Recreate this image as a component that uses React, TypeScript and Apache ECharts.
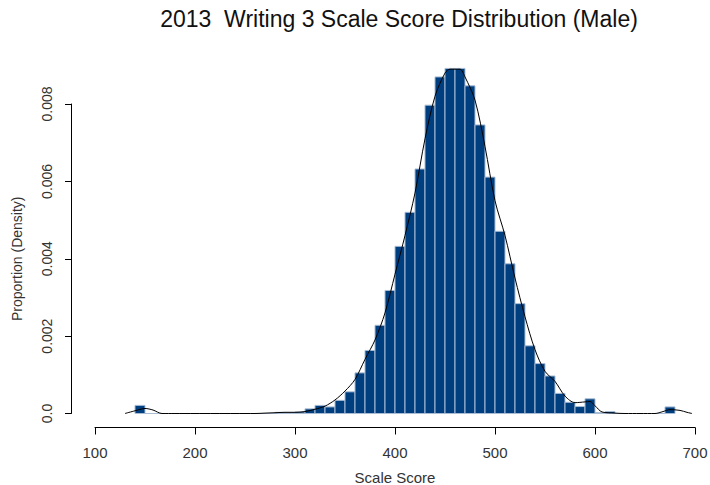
import React, { useEffect, useRef } from "react";
import * as echarts from "echarts";

// Histogram bins (lower edge, width 10) and their densities
const binStarts = [140, 150, 160, 170, 180, 190, 200, 210, 220, 230, 240, 250, 260, 270, 280, 290, 300, 310, 320, 330, 340, 350, 360, 370, 380, 390, 400, 410, 420, 430, 440, 450, 460, 470, 480, 490, 500, 510, 520, 530, 540, 550, 560, 570, 580, 590, 600, 610, 620, 630, 640, 650, 660, 670];
const binDensity = [0.00021, 0, 0, 0, 0, 0, 0, 0, 0, 0, 0, 0, 0, 0, 0.00003, 0.00003, 0.00004, 0.00012, 0.00021, 0.00017, 0.00034, 0.00056, 0.00105, 0.00163, 0.00228, 0.00318, 0.00432, 0.0052, 0.00632, 0.00797, 0.0087, 0.00892, 0.00892, 0.00847, 0.00746, 0.00611, 0.00471, 0.00387, 0.00284, 0.00175, 0.00129, 0.00097, 0.00052, 0.00029, 0.00018, 0.00038, 0.00002, 0.00005, 0, 0, 0, 0, 0, 0.00017];
const binWidth = 10;

// Kernel density curve
const curveX = [130, 140, 150, 158, 167, 180, 200, 220, 240, 260, 270, 280, 290, 300, 310, 320, 330, 340, 350, 360, 370, 380, 390, 400, 410, 420, 430, 440, 450, 455, 460, 465, 470, 480, 490, 500, 510, 520, 530, 540, 550, 560, 570, 580, 590, 595, 600, 607, 620, 630, 645, 660, 668, 675, 685, 692, 697];
const curveY = [0, 0.00007, 0.00013, 0.00009, 0, 0, 0, 0, 0, 0, 0.00001, 0.00002, 0.00003, 0.00003, 0.00005, 0.00011, 0.00019, 0.00035, 0.00058, 0.00088, 0.0014, 0.0019, 0.0026, 0.0036, 0.0046, 0.0057, 0.0071, 0.0082, 0.0088, 0.0089, 0.0089, 0.0089, 0.0087, 0.0081, 0.0069, 0.0055, 0.0046, 0.0035, 0.0025, 0.00165, 0.00109, 0.00083, 0.00045, 0.00028, 0.0003, 0.00031, 0.0002, 0.00004, 0.00001, 0, 0, 0, 0.00005, 0.0001, 0.00008, 0.00003, 0];

const xTicks = [100, 200, 300, 400, 500, 600, 700];
const yTicks = [0, 0.002, 0.004, 0.006, 0.008];

const FONT = "'Liberation Sans', Arial, sans-serif";

export default function App() {
  const ref = useRef<HTMLDivElement>(null);
  useEffect(() => {
    if (!ref.current) return;
    const chart = echarts.init(ref.current, null, { renderer: "svg" });
    const bars = binStarts.map((s, i) => [s, s + binWidth, binDensity[i]]);
    const curve = curveX.map((x, i) => [x, curveY[i]]);
    chart.setOption({
      animation: false,
      backgroundColor: "#ffffff",
      textStyle: { fontFamily: FONT },
      title: {
        text: "2013  Writing 3 Scale Score Distribution (Male)",
        left: 394,
        textAlign: "center",
        top: 2,
        textStyle: { fontFamily: FONT, fontSize: 23, fontWeight: "normal", color: "#111" },
      },
      grid: { left: 95, right: 15, top: 104, bottom: 71.5, outerBoundsMode: "none", containLabel: false },
      xAxis: {
        type: "value",
        min: xTicks[0],
        max: xTicks[xTicks.length - 1],
        interval: 100,
        offset: 14,
        name: "Scale Score",
        nameLocation: "middle",
        nameGap: 42,
        nameTextStyle: { fontFamily: FONT, fontSize: 15, color: "#333" },
        axisLine: { show: true, onZero: false, lineStyle: { color: "#000", width: 1 } },
        axisTick: { show: true, length: 7, lineStyle: { color: "#000" } },
        axisLabel: { fontFamily: FONT, fontSize: 15, color: "#333", margin: 17 },
        splitLine: { show: false },
      },
      yAxis: {
        type: "value",
        min: yTicks[0],
        max: yTicks[yTicks.length - 1],
        interval: 0.002,
        offset: 24,
        name: "Proportion (Density)",
        nameLocation: "middle",
        nameGap: 47,
        nameRotate: 90,
        nameTextStyle: { fontFamily: FONT, fontSize: 14, color: "#333" },
        axisLine: { show: true, onZero: false, lineStyle: { color: "#000", width: 1 } },
        axisTick: { show: true, length: 6, lineStyle: { color: "#000" } },
        axisLabel: {
          fontFamily: FONT,
          fontSize: 14,
          color: "#333",
          rotate: 90,
          margin: 17,
          formatter: (v: number) => (v === 0 ? "0.0" : v.toFixed(3)),
        },
        splitLine: { show: false },
      },
      series: [
        {
          type: "custom",
          clip: false,
          data: bars,
          encode: { x: [0, 1], y: 2 },
          renderItem: (_params: any, api: any) => {
            const lo = api.value(0);
            const hi = api.value(1);
            const v = api.value(2);
            const p1 = api.coord([lo, v]);
            const p2 = api.coord([hi, 0]);
            return {
              type: "rect",
              shape: { x: p1[0], y: p1[1], width: p2[0] - p1[0], height: p2[1] - p1[1] },
              style: { fill: "#003F7F", stroke: "#A9BCD4", lineWidth: 1 },
            };
          },
          z: 2,
        },
        {
          type: "line",
          data: curve,
          clip: false,
          smooth: 0.3,
          showSymbol: false,
          symbol: "none",
          lineStyle: { color: "#000", width: 1 },
          z: 3,
        },
      ],
    });
    return () => chart.dispose();
  }, []);
  return (
    <div
      ref={ref}
      style={{ position: "fixed", left: 0, top: 0, width: 710, height: 485, background: "#fff" }}
    />
  );
}
